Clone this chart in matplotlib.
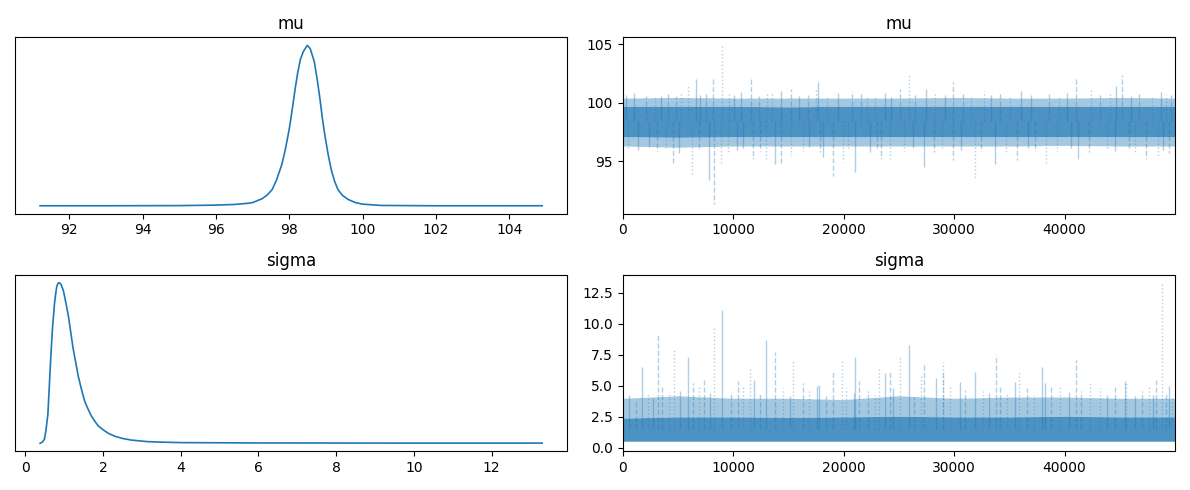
import matplotlib
matplotlib.use("Agg")
import matplotlib.pyplot as plt

# posterior density of mu (peak scaled to 1)
mu_kde_x = [91.2, 93.0, 95.0, 96.0, 96.5, 96.9, 97.0, 97.26, 97.4, 97.53, 97.65, 97.8,
            97.9, 98.0, 98.08, 98.16, 98.23, 98.3, 98.38, 98.49, 98.57, 98.68, 98.76,
            98.84, 98.9, 98.97, 99.06, 99.15, 99.24, 99.33, 99.45, 99.6, 99.8, 100.0,
            100.5, 102.0, 104.9]
mu_kde_y = [0.0, 0.0, 0.001, 0.004, 0.008, 0.016, 0.02, 0.044, 0.068, 0.10, 0.16, 0.26,
            0.36, 0.48, 0.60, 0.73, 0.83, 0.91, 0.96, 1.0, 0.98, 0.90, 0.79,
            0.66, 0.55, 0.44, 0.32, 0.22, 0.15, 0.10, 0.065, 0.04, 0.02, 0.01,
            0.002, 0.0, 0.0]

sigma_kde_x = [0.38, 0.44, 0.49, 0.53, 0.58, 0.62, 0.66, 0.70, 0.75, 0.78, 0.81, 0.85,
               0.88, 0.92, 0.98, 1.04, 1.11, 1.17, 1.23, 1.3, 1.36, 1.44, 1.53, 1.62,
               1.70, 1.78, 1.87, 2.0, 2.15, 2.3, 2.5, 2.72, 3.15, 3.5, 4.0, 6.0, 10.0, 13.3]
sigma_kde_y = [0.0, 0.008, 0.024, 0.08, 0.18, 0.37, 0.56, 0.72, 0.87, 0.93, 0.98, 1.0,
               1.0, 0.99, 0.95, 0.88, 0.79, 0.69, 0.59, 0.50, 0.42, 0.34, 0.26, 0.21,
               0.17, 0.14, 0.11, 0.084, 0.06, 0.044, 0.03, 0.02, 0.01, 0.007, 0.004,
               0.002, 0.001, 0.001]

# trace panels: dense band per block of 5000 draws
bins = [0, 5000, 10000, 15000, 20000, 25000, 30000, 35000, 40000, 45000, 49999]
mu_core_lo = [97.1, 97.05, 97.1, 97.1, 97.1, 97.1, 97.1, 97.1, 97.1, 97.1, 97.1]
mu_core_hi = [99.7, 99.7, 99.7, 99.65, 99.7, 99.7, 99.7, 99.7, 99.7, 99.7, 99.7]
mu_edge_lo = [96.3, 96.2, 96.3, 96.3, 96.3, 96.3, 96.3, 96.3, 96.35, 96.3, 96.3]
mu_edge_hi = [100.4, 100.45, 100.4, 100.4, 100.4, 100.4, 100.45, 100.4, 100.4, 100.45, 100.4]

sigma_core_lo = [0.57] * 11
sigma_core_hi = [2.4, 2.5, 2.5, 2.45, 2.5, 2.55, 2.5, 2.5, 2.55, 2.5, 2.5]
sigma_edge_lo = [0.5] * 11
sigma_edge_hi = [4.0, 4.2, 4.0, 4.0, 3.9, 4.2, 4.0, 4.1, 4.1, 4.0, 4.0]

# isolated excursions (draw, value)
mu_spike_x = [980, 4070, 5880, 6650, 8170, 9000, 10750, 11610, 13100, 14290, 15210, 17460,
              17670, 20730, 22100, 24300, 25100, 25920, 27500, 29880, 32700, 36040, 41010,
              42400, 44700, 45210, 49200,
              1340, 4540, 6240, 7780, 8260, 8910, 10300, 11790, 13000, 13780, 14350, 15200,
              18100, 19040, 19900, 21030, 23400, 24180, 27260, 29940, 31900, 33700, 35650,
              38360, 41250, 47350, 48450]
mu_spike_y = [100.8, 100.8, 101.6, 102.0, 102.2, 104.9, 100.9, 102.1, 100.8, 101.0, 101.2, 101.1,
              101.8, 101.0, 100.7, 100.5, 101.2, 102.5, 101.2, 101.8, 101.0, 101.0, 102.1,
              101.1, 101.4, 102.4, 100.7,
              96.0, 94.7, 93.7, 93.4, 91.3, 94.8, 96.0, 95.2, 95.2, 94.8, 94.7, 95.5,
              95.4, 93.7, 94.9, 94.1, 95.2, 95.2, 94.5, 95.1, 93.6, 94.8, 95.1,
              94.7, 95.2, 95.2, 95.4]

# smaller excursions that make the ragged edge of the band
mu_minor_x = [300, 2100, 2900, 3500, 4800, 5300, 7000, 7500, 9600, 10100, 12300, 13500,
              16000, 16800, 18500, 19500, 21600, 22800, 23700, 26500, 28300, 29200, 30800,
              31500, 33300, 34200, 35100, 37000, 38600, 39500, 40200, 43200, 44100, 46000,
              46700, 47900, 48700, 49600,
              500, 2400, 3100, 3900, 5100, 6900, 9500, 10900, 12400, 16300, 16900, 17900,
              20400, 22400, 23000, 25500, 26300, 28200, 28900, 30600, 32400, 34700, 36700,
              37300, 39300, 40600, 42200, 43800, 44600, 45800, 46400, 48900, 49500]
mu_minor_y = [100.7, 100.6, 100.7, 100.6, 100.6, 100.9, 100.7, 100.9, 100.8, 100.7, 100.6, 100.9,
              100.6, 100.7, 100.6, 100.8, 100.9, 100.6, 100.8, 100.7, 100.9, 100.7, 100.8,
              100.6, 100.7, 100.9, 100.6, 100.7, 100.9, 100.6, 100.8, 100.7, 100.9, 100.6,
              100.8, 100.7, 100.9, 100.7,
              96.0, 96.2, 95.9, 96.1, 95.7, 96.0, 95.8, 96.1, 95.9, 95.9, 96.2, 95.8,
              96.0, 95.8, 96.0, 95.9, 96.1, 95.8, 96.0, 96.0, 95.9, 95.8, 96.1,
              95.9, 95.9, 96.1, 95.8, 96.0, 95.9, 96.1, 95.8, 96.0, 95.7]

sigma_spike_x = [1720, 3180, 4600, 5880, 7400, 8230, 9030, 10400, 11520, 12950, 13750, 15440,
                 17600, 19010, 19870, 21060, 21400, 23170, 23750, 24200, 25100, 25920, 27260,
                 28960, 31900, 33810, 35900, 37980, 41010, 42300, 45500, 48250, 48850, 49500]
sigma_spike_y = [6.5, 9.2, 7.9, 7.35, 5.5, 9.8, 11.1, 5.4, 6.5, 8.7, 7.7, 7.0,
                 5.0, 6.2, 7.1, 7.3, 5.4, 6.5, 6.0, 6.2, 7.4, 8.3, 6.8,
                 6.9, 6.1, 7.5, 6.1, 6.5, 7.1, 5.4, 5.4, 5.5, 13.35, 5.0]

sigma_minor_x = [600, 1200, 2300, 2700, 3600, 4200, 5200, 6400, 6900, 7900, 9800, 10900,
                 11900, 12400, 14500, 15100, 16300, 16900, 17800, 18400, 20200, 20900, 22200,
                 22800, 24500, 26400, 27000, 28400, 29000, 29600, 30500, 31000, 32600, 33200,
                 34200, 34800, 35500, 36600, 37200, 38200, 38800, 39600, 40400, 41500, 43200,
                 43800, 44600, 45600, 46400, 47000, 47600, 48000, 49200, 49700]
sigma_minor_y = [4.3, 3.9, 4.4, 4.0, 5.1, 4.5, 4.6, 5.2, 4.9, 4.4, 4.5, 4.9,
                 5.5, 4.4, 4.8, 4.2, 5.2, 4.6, 5.1, 4.2, 4.8, 4.4, 4.6,
                 4.3, 4.8, 4.1, 5.9, 5.6, 6.0, 4.9, 5.3, 4.7, 4.6, 4.4,
                 5.1, 4.5, 5.3, 4.8, 4.3, 5.2, 5.1, 4.9, 4.5, 4.6, 4.8,
                 4.3, 5.0, 5.3, 4.2, 4.6, 4.9, 4.3, 4.5, 4.1]

n_draws = 50000
c0 = "#1f77b4"
styles = ["-", "--", ":"]

fig, axes = plt.subplots(2, 2, figsize=(11.9, 4.9), dpi=100)


def kde_panel(ax, xs, ys, title):
    ax.plot(xs, ys, color=c0, lw=1.2)
    ax.set_yticks([])
    ax.set_title(title)


def trace_panel(ax, core_lo, core_hi, edge_lo, edge_hi, spikes, base, title):
    ax.fill_between(bins, edge_lo, core_lo, color=c0, alpha=0.4, lw=0)
    ax.fill_between(bins, core_hi, edge_hi, color=c0, alpha=0.4, lw=0)
    ax.fill_between(bins, core_lo, core_hi, color=c0, alpha=0.8, lw=0)
    for sx, sy in spikes:
        for i, (x, y) in enumerate(zip(sx, sy)):
            ax.vlines(x, base, y, colors=c0, alpha=0.35, lw=1.0,
                      linestyles=styles[i % 3])
    ax.set_xlim(0, n_draws - 1)
    ax.set_title(title)


kde_panel(axes[0, 0], mu_kde_x, mu_kde_y, "mu")
kde_panel(axes[1, 0], sigma_kde_x, sigma_kde_y, "sigma")

trace_panel(axes[0, 1], mu_core_lo, mu_core_hi, mu_edge_lo, mu_edge_hi,
            [(mu_minor_x, mu_minor_y), (mu_spike_x, mu_spike_y)], 98.4, "mu")
axes[0, 1].set_ylim(90.5, 105.6)
axes[0, 1].set_yticks([95, 100, 105])

trace_panel(axes[1, 1], sigma_core_lo, sigma_core_hi, sigma_edge_lo, sigma_edge_hi,
            [(sigma_minor_x, sigma_minor_y), (sigma_spike_x, sigma_spike_y)], 1.5, "sigma")
axes[1, 1].set_ylim(-0.27, 13.95)
axes[1, 1].set_yticks([0, 2.5, 5, 7.5, 10, 12.5])

plt.tight_layout()
plt.savefig("out.png")
